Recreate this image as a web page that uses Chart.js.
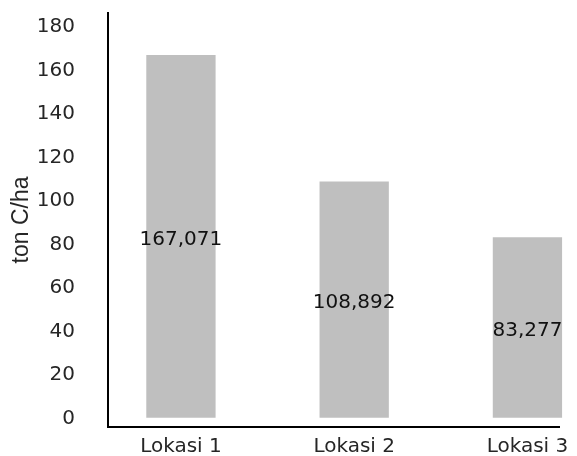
<!DOCTYPE html>
<html>
<head>
<meta charset="utf-8">
<script src="https://cdn.jsdelivr.net/npm/chart.js@4/dist/chart.umd.min.js"></script>
<style>
  html, body { margin: 0; padding: 0; background: #fff; }
  #wrap { width: 577px; height: 456px; }
</style>
</head>
<body>
<div id="wrap"><canvas id="c" width="577" height="456"></canvas></div>
<script>
// Carbon stock per location (ton C/ha)
const categories = ['Lokasi 1', 'Lokasi 2', 'Lokasi 3'];
const carbonStock = [167.071, 108.892, 83.277];
const yTickValues = [0, 20, 40, 60, 80, 100, 120, 140, 160, 180];
const yAxisTitle = 'ton C/ha';

const tickFont = { family: '"DejaVu Sans", Verdana, sans-serif', size: 20 };
const titleFont = { family: '"Liberation Sans", Arial, sans-serif', size: 23 };

// Decimal comma, three decimals
const fmt = v => v.toFixed(3).replace('.', ',');

// Writes each bar's value in the middle of the bar
const valueLabels = {
  id: 'valueLabels',
  afterDatasetsDraw(chart) {
    const ctx = chart.ctx;
    const meta = chart.getDatasetMeta(0);
    ctx.save();
    ctx.font = `${tickFont.size}px ${tickFont.family}`;
    ctx.fillStyle = '#111';
    ctx.textAlign = 'center';
    ctx.textBaseline = 'middle';
    meta.data.forEach((bar, i) => {
      const { x, y, base } = bar.getProps(['x', 'y', 'base'], true);
      ctx.fillText(fmt(carbonStock[i]), x, (y + base) / 2 + 3.5);
    });
    ctx.restore();
  }
};

const clear = 'rgba(0,0,0,0)';

new Chart(document.getElementById('c'), {
  type: 'bar',
  data: {
    datasets: [{
      data: categories.map((c, i) => ({ x: i, y: carbonStock[i] })),
      backgroundColor: '#BFBFBF',
      borderWidth: 0,
      barPercentage: 0.4,
      categoryPercentage: 1.0,
      clip: false
    }]
  },
  options: {
    responsive: false,
    animation: false,
    devicePixelRatio: 1,
    layout: { padding: { top: 13, right: 11, left: 0, bottom: 0 } },
    plugins: { legend: { display: false }, tooltip: { enabled: false } },
    scales: {
      x: {
        type: 'linear',
        offset: false,
        min: -0.421,
        max: 2.185,
        afterBuildTicks: s => { s.ticks = categories.map((c, i) => ({ value: i })); },
        afterFit: s => { s.height = 29; },
        grid: { display: false, drawTicks: false },
        border: { display: true, color: '#000', width: 2 },
        ticks: {
          padding: 8,
          color: '#262626',
          font: tickFont,
          autoSkip: false,
          maxRotation: 0,
          callback: v => categories[v]
        }
      },
      y: {
        min: -4.0,
        max: 186.4,
        afterBuildTicks: s => { s.ticks = yTickValues.map(v => ({ value: v })); },
        afterFit: s => { s.width = 108; },
        // invisible tick marks keep the labels clear of the axis line
        grid: { display: true, drawOnChartArea: false, drawTicks: true, tickLength: 32, color: clear, tickColor: clear },
        border: { display: true, color: '#000', width: 2 },
        ticks: {
          padding: 1,
          color: '#262626',
          font: tickFont,
          callback: v => String(v)
        },
        title: {
          display: true,
          text: yAxisTitle,
          color: '#262626',
          font: titleFont,
          padding: { top: 8, bottom: 0 }
        }
      }
    }
  },
  plugins: [valueLabels]
});
</script>
</body>
</html>
